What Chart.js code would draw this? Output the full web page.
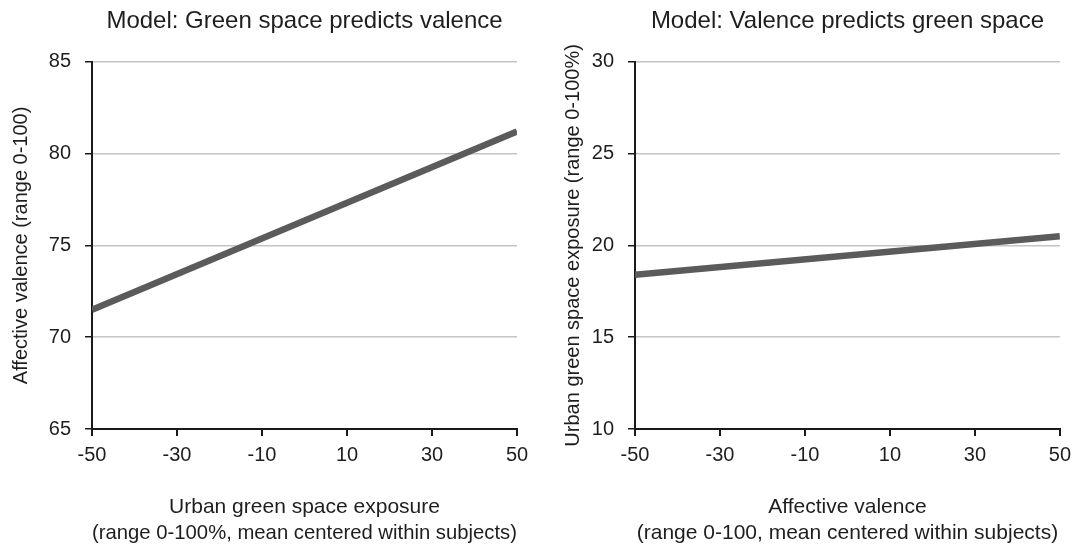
<!DOCTYPE html>
<html>
<head>
<meta charset="utf-8">
<script src="https://cdn.jsdelivr.net/npm/chart.js@4"></script>
<style>
html,body{margin:0;padding:0;background:#fff;}
#wrap{position:relative;width:1078px;height:548px;overflow:hidden;}
canvas{position:absolute;top:0;}
#c1{left:0;}
#c2{left:540px;}
</style>
</head>
<body>
<div id="wrap">
<canvas id="c1" width="540" height="548"></canvas>
<canvas id="c2" width="538" height="548"></canvas>
</div>
<script>
// ---- data ----
const titles = ["Model: Green space predicts valence", "Model: Valence predicts green space"];
const xTicks = [-50, -30, -10, 10, 30, 50];
const leftYTicks = [65, 70, 75, 80, 85];
const rightYTicks = [10, 15, 20, 25, 30];
const leftX = [-50, 50];
const leftY = [71.5, 81.2];
const rightX = [-50, 50];
const rightY = [18.4, 20.5];
const leftXTitle = ["Urban green space exposure", "(range 0-100%, mean centered within subjects)"];
const leftYTitle = "Affective valence (range 0-100)";
const rightXTitle = ["Affective valence", "(range 0-100, mean centered within subjects)"];
const rightYTitle = "Urban green space exposure (range 0-100%)";

Chart.defaults.font.family = "'Liberation Sans', Arial, sans-serif";
Chart.defaults.color = "#1e1e1e";

function makeChart(id, cfg) {
  const pts = cfg.xs.map((x, i) => ({x: x, y: cfg.ys[i]}));
  return new Chart(document.getElementById(id), {
    type: 'line',
    data: {
      datasets: [{
        data: pts,
        borderColor: '#5b5b5b',
        borderWidth: 6.5,
        pointRadius: 0,
        tension: 0,
        fill: false
      }]
    },
    options: {
      responsive: false,
      animation: false,
      devicePixelRatio: 1,
      layout: {padding: {left: 0, right: cfg.padRight, top: 0, bottom: 0}},
      plugins: {
        legend: {display: false},
        tooltip: {enabled: false},
        title: {
          display: true,
          text: cfg.title,
          fullSize: false,
          font: {size: 24, weight: 'normal', lineHeight: 1.2},
          color: '#1e1e1e',
          padding: {top: 7, bottom: 26}
        }
      },
      scales: {
        x: {
          type: 'linear',
          min: xTicks[0],
          max: xTicks[xTicks.length - 1],
          afterBuildTicks: s => { s.ticks = xTicks.map(v => ({value: v})); },
          afterFit: s => { s.height = 119; },
          border: {display: true, color: '#1a1a1a', width: 2},
          grid: {display: true, drawOnChartArea: false, drawTicks: true, tickLength: 7, tickColor: '#1a1a1a', lineWidth: 2},
          ticks: {font: {size: 20}, padding: 7, color: '#1e1e1e', maxRotation: 0},
          title: {display: true, text: cfg.xTitle, font: {size: 21, lineHeight: 1.24}, color: '#1e1e1e', padding: {top: 0, bottom: 2}}
        },
        y: {
          type: 'linear',
          min: cfg.yTicks[0],
          max: cfg.yTicks[cfg.yTicks.length - 1],
          afterBuildTicks: s => { s.ticks = cfg.yTicks.map(v => ({value: v})); },
          afterFit: s => { s.width = cfg.yWidth; },
          border: {display: true, color: '#1a1a1a', width: 2},
          grid: {display: true, drawOnChartArea: true, color: '#c4c4c4', lineWidth: 1.5, drawTicks: true, tickLength: 7, tickColor: '#1a1a1a'},
          ticks: {font: {size: 20}, padding: 14, color: '#1e1e1e'},
          title: {display: true, text: cfg.yTitle, font: {size: 20, lineHeight: 1.2}, color: '#1e1e1e', padding: {top: cfg.yTitlePad, bottom: 0}}
        }
      }
    }
  });
}

makeChart('c1', {title: titles[0], xs: leftX, ys: leftY, yTicks: leftYTicks, xTitle: leftXTitle, yTitle: leftYTitle, yWidth: 92, padRight: 23, yTitlePad: 9});
makeChart('c2', {title: titles[1], xs: rightX, ys: rightY, yTicks: rightYTicks, xTitle: rightXTitle, yTitle: rightYTitle, yWidth: 95, padRight: 17, yTitlePad: 21});
</script>
</body>
</html>
